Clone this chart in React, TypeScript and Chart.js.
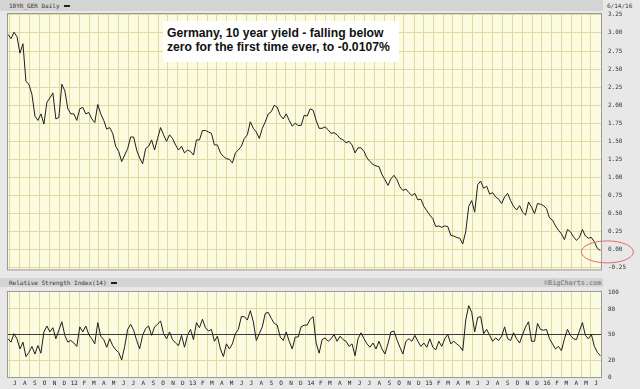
import React, { useEffect, useRef } from "react";
import { Chart, registerables } from "chart.js";
Chart.register(...registerables);

// ---- data ----
const START_DATE: [number, number, number] = [2011, 5, 10]; // 2011-06-10
const END_DATE: [number, number, number] = [2016, 5, 14]; // 2016-06-14
const AXIS_END: [number, number, number] = [2016, 5, 16];

// 10-year German yield (%), evenly spaced samples from START_DATE to END_DATE
const YIELD_PCT = [
  2.98, 2.92, 3.01, 2.95, 2.72, 2.85, 2.33, 2.29, 2.15, 1.85,
  1.79, 1.88, 1.74, 2.04, 2.10, 2.17, 1.81, 1.83, 2.29, 2.20,
  1.95, 1.88, 1.88, 1.79, 1.95, 1.97, 1.88, 1.90, 1.81, 1.76,
  2.01, 1.88, 1.79, 1.67,
  1.69, 1.61, 1.43, 1.36, 1.22, 1.31, 1.40, 1.56, 1.56, 1.38,
  1.27, 1.19, 1.40, 1.43, 1.52, 1.38, 1.54, 1.69, 1.59, 1.50,
  1.59, 1.54, 1.45, 1.38, 1.43, 1.34, 1.38, 1.36, 1.31, 1.52,
  1.52, 1.65,
  1.65, 1.63, 1.61, 1.45, 1.45, 1.34, 1.29, 1.26, 1.25, 1.20,
  1.34, 1.38, 1.43, 1.54, 1.59, 1.77, 1.68, 1.63, 1.54, 1.68,
  1.77, 1.88, 1.91, 2.00, 1.97, 1.86, 1.81, 1.88, 1.79, 1.71,
  1.75,
  1.72, 1.72, 1.86, 1.85, 1.95, 1.93, 1.79, 1.68, 1.68, 1.70,
  1.66, 1.61, 1.62, 1.59, 1.54, 1.52, 1.48, 1.50, 1.45, 1.34,
  1.41, 1.41, 1.36, 1.27, 1.22, 1.18, 1.16, 1.15, 1.04, 0.97,
  0.89, 0.98, 1.03, 0.97,
  0.87, 0.82, 0.84, 0.79, 0.75, 0.78, 0.69, 0.70, 0.60, 0.54,
  0.48, 0.43, 0.32, 0.33, 0.31, 0.33, 0.32, 0.20, 0.19, 0.17,
  0.16, 0.08, 0.25, 0.60, 0.68, 0.52, 0.90, 0.95, 0.85, 0.88,
  0.77, 0.79, 0.73, 0.70,
  0.64, 0.73, 0.78, 0.68, 0.60, 0.55, 0.61, 0.52, 0.48, 0.66,
  0.59, 0.50, 0.64, 0.63, 0.61, 0.57, 0.44, 0.41, 0.33, 0.27,
  0.22, 0.14, 0.28, 0.25, 0.18, 0.13, 0.17, 0.28, 0.19, 0.16,
  0.17, 0.11, 0.02,
  -0.01,
];

// RSI(14), same sampling
const RSI_14 = [
  45, 41, 51, 45, 33, 41, 24, 29, 36, 27,
  37, 28, 53, 60, 53, 58, 45, 55, 65, 49,
  41, 43, 40, 36, 59, 53, 60, 50, 45, 39,
  64, 48, 44, 35, 45, 37, 32, 29, 20, 36,
  56, 62, 55, 43, 33, 49, 57, 60, 49, 59,
  62, 66, 51, 45, 53, 44, 40, 37, 49, 35,
  49, 56, 44, 64, 58, 68, 58, 54, 56, 42,
  48, 33, 24, 39, 33, 39, 51, 56, 71, 71,
  67, 78, 65, 43, 51, 59, 75, 76, 69, 63,
  61, 47, 43, 53, 42, 33, 47, 47, 59, 61,
  61, 68, 71, 40,
  28, 44, 46, 42, 45, 50, 42, 48, 44, 42,
  36, 39, 25, 45, 52, 45, 39, 35, 40, 33,
  42, 33, 27, 39, 53, 54, 44, 35, 27, 42,
  45, 42, 49, 42, 36, 40, 35, 45, 35, 32,
  42, 36, 45, 50, 39, 42, 39, 36, 31, 67,
  84, 76, 53, 70, 71, 51, 56, 49, 42, 46,
  43, 48, 59, 45, 43, 52, 45, 40, 50, 59,
  65, 42, 42, 63, 56, 55, 56, 45, 39, 33,
  36, 31, 45, 56, 49, 45, 44, 54, 64, 49,
  45, 50, 36, 29,
  25,
];

const MONTH_LETTERS = ["J", "F", "M", "A", "M", "J", "J", "A", "S", "O", "N", "D"];
const FIRST_MONTH: [number, number] = [2011, 6]; // Jul 2011
const LAST_MONTH: [number, number] = [2016, 5]; // Jun 2016
const YIELD_TICKS = [-0.25, 0, 0.25, 0.5, 0.75, 1, 1.25, 1.5, 1.75, 2, 2.25, 2.5, 2.75, 3, 3.25];
const YIELD_MIN = -0.272;
const YIELD_MAX = 3.262;
const RSI_TICKS = [0, 20, 50, 80, 100];
const TITLE_LINES = [
  "Germany, 10 year yield - falling below",
  "zero for the first time ever, to -0.0107%",
];
const SYMBOL = "10YR_GER Daily";
const DATE_LABEL = "6/14/16";
const RSI_TITLE = "Relative Strength Index(14)";
const CREDIT = "\u00A9BigCharts.com";

// ---- helpers ----
const DAY = 86400000;
const dayOf = (y: number, m: number, d: number) =>
  (Date.UTC(y, m, d) - Date.UTC(START_DATE[0], START_DATE[1], START_DATE[2])) / DAY;
const TOTAL_DAYS = dayOf(...END_DATE);
const AXIS_MAX = dayOf(...AXIS_END);

const toPoints = (arr: number[]) =>
  arr.map((v, i) => ({ x: (i * TOTAL_DAYS) / (arr.length - 1), y: v }));

const monthList: { y: number; m: number }[] = [];
for (let y = FIRST_MONTH[0], m = FIRST_MONTH[1]; y < LAST_MONTH[0] || (y === LAST_MONTH[0] && m <= LAST_MONTH[1]); ) {
  monthList.push({ y, m });
  m++;
  if (m > 11) { m = 0; y++; }
}
const LABEL_TICKS = monthList.map(({ y, m }) => ({
  value: dayOf(y, m, 1),
  label: m === 0 ? String(y % 100).padStart(2, "0") : MONTH_LETTERS[m],
}));
const GRID_TICKS = monthList.map(({ y, m }) => dayOf(y, m - 1, 16));
const LABEL_MAP = new Map(LABEL_TICKS.map((t) => [t.value, t.label]));

const PLOT_BG = "#fbfbdf";
const GRID = "#e2d9a2";
const FRAME = "#9a9a9a";
const MONO = "'DejaVu Sans Mono', monospace";

const bgPlugin = {
  id: "plotBg",
  beforeDraw(chart: any) {
    const { ctx, chartArea: a } = chart;
    ctx.save();
    ctx.fillStyle = PLOT_BG;
    ctx.fillRect(a.left, a.top, a.right - a.left, a.bottom - a.top);
    ctx.restore();
  },
};
const framePlugin = {
  id: "frame",
  afterDraw(chart: any) {
    const { ctx, chartArea: a } = chart;
    ctx.save();
    ctx.strokeStyle = FRAME;
    ctx.lineWidth = 1;
    ctx.strokeRect(a.left - 0.5, a.top - 0.5, a.right - a.left + 1, a.bottom - a.top + 1);
    ctx.restore();
  },
};

const gridX = (hFit = 0) => ({
  type: "linear" as const,
  min: 0,
  max: AXIS_MAX,
  afterBuildTicks: (s: any) => {
    s.ticks = GRID_TICKS.map((v) => ({ value: v }));
  },
  ticks: { display: false },
  grid: { color: GRID, drawTicks: false, lineWidth: 1 },
  border: { display: false },
  afterFit: (s: any) => {
    s.height = hFit;
  },
});

export default function App() {
  const topRef = useRef<HTMLCanvasElement>(null);
  const rsiRef = useRef<HTMLCanvasElement>(null);

  useEffect(() => {
    const pricePts = toPoints(YIELD_PCT);
    const rsiPts = toPoints(RSI_14);
    const lastX = pricePts[pricePts.length - 1].x;

    const ringPlugin = {
      id: "ring",
      afterDraw(chart: any) {
        const { ctx } = chart;
        const xs = chart.scales.x;
        const ys = chart.scales.y;
        const cx = xs.getPixelForValue(lastX) + 7;
        const cy = ys.getPixelForValue(-0.03);
        ctx.save();
        ctx.strokeStyle = "#e36a6a";
        ctx.lineWidth = 1;
        ctx.beginPath();
        ctx.ellipse(cx, cy, 26, 11, 0, 0, Math.PI * 2);
        ctx.stroke();
        ctx.restore();
      },
    };

    const top = new Chart(topRef.current as HTMLCanvasElement, {
      type: "line",
      data: {
        datasets: [
          {
            data: pricePts,
            borderColor: "#1e1e1e",
            borderWidth: 1,
            pointRadius: 0,
            tension: 0,
          },
        ],
      },
      options: {
        responsive: false,
        animation: false,
        devicePixelRatio: 1,
        layout: { padding: { left: 8, top: 14, right: 0, bottom: 7 } },
        plugins: { legend: { display: false }, tooltip: { enabled: false } },
        scales: {
          x: gridX(0) as any,
          y: {
            position: "right",
            min: YIELD_MIN,
            max: YIELD_MAX,
            afterBuildTicks: (s: any) => {
              s.ticks = YIELD_TICKS.map((v) => ({ value: v }));
            },
            ticks: {
              callback: (v: any) => Number(v).toFixed(2),
              font: { family: MONO, size: 6 },
              color: "#333",
              padding: 7,
              autoSkip: false,
            },
            grid: { color: GRID, drawTicks: false },
            border: { display: false },
            afterFit: (s: any) => {
              s.width = 39;
            },
          } as any,
        },
      },
      plugins: [bgPlugin, framePlugin, ringPlugin],
    });

    const rsi = new Chart(rsiRef.current as HTMLCanvasElement, {
      type: "line",
      data: {
        datasets: [
          {
            data: rsiPts,
            borderColor: "#1e1e1e",
            borderWidth: 1,
            pointRadius: 0,
            tension: 0,
          },
        ],
      },
      options: {
        responsive: false,
        animation: false,
        devicePixelRatio: 1,
        layout: { padding: { left: 8, top: 12, right: 0, bottom: 0 } },
        plugins: { legend: { display: false }, tooltip: { enabled: false } },
        scales: {
          x: gridX(0) as any,
          xl: {
            type: "linear",
            position: "bottom",
            min: 0,
            max: AXIS_MAX,
            afterBuildTicks: (s: any) => {
              s.ticks = LABEL_TICKS.map((t) => ({ value: t.value }));
            },
            ticks: {
              callback: (v: any) => LABEL_MAP.get(v) ?? "",
              font: { family: MONO, size: 6 },
              color: "#222",
              padding: 3,
              autoSkip: false,
              maxRotation: 0,
              minRotation: 0,
            },
            grid: { display: false, drawTicks: false },
            border: { display: false },
            afterFit: (s: any) => {
              s.height = 12;
            },
          } as any,
          y: {
            position: "right",
            min: 0,
            max: 100,
            afterBuildTicks: (s: any) => {
              s.ticks = RSI_TICKS.map((v) => ({ value: v }));
            },
            ticks: {
              font: { family: MONO, size: 6 },
              color: "#333",
              padding: 7,
              autoSkip: false,
            },
            grid: {
              drawTicks: false,
              color: (c: any) =>
                c.tick && c.tick.value === 50
                  ? "#3a3a3a"
                  : c.tick && (c.tick.value === 0 || c.tick.value === 100)
                  ? "rgba(0,0,0,0)"
                  : GRID,
            },
            border: { display: false },
            afterFit: (s: any) => {
              s.width = 39;
            },
          } as any,
        },
      },
      plugins: [bgPlugin, framePlugin],
    });

    return () => {
      top.destroy();
      rsi.destroy();
    };
  }, []);

  const tiny: React.CSSProperties = {
    position: "absolute",
    fontFamily: MONO,
    fontSize: 6,
    lineHeight: "8px",
    color: "#333",
    whiteSpace: "nowrap",
  };
  const dash: React.CSSProperties = {
    display: "inline-block",
    width: 6,
    height: 2,
    background: "#222",
    verticalAlign: "middle",
    marginLeft: 4,
  };

  return (
    <div
      style={{
        position: "absolute",
        left: 0,
        top: 0,
        width: 640,
        height: 389,
        background: "#e8e8e8",
        overflow: "hidden",
      }}
    >
      <div style={{ position: "absolute", left: 0, top: 0, width: 603, height: 11, background: "#d4d4d4" }} />
      <div style={{ ...tiny, left: 9, top: 2 }}>
        {SYMBOL}
        <span style={dash} />
      </div>
      <div style={{ ...tiny, left: 607, top: 2 }}>{DATE_LABEL}</div>

      <div style={{ position: "absolute", left: 0, top: 278, width: 603, height: 9, background: "#d4d4d4" }} />
      <div style={{ ...tiny, left: 9, top: 279 }}>
        {RSI_TITLE}
        <span style={dash} />
      </div>
      <div
        style={{
          ...tiny,
          left: 544,
          top: 279,
          fontWeight: "bold",
          fontSize: 6.8,
          color: "#8a8a8a",
        }}
      >
        {CREDIT}
      </div>

      <canvas
        ref={topRef}
        width={640}
        height={280}
        style={{ position: "absolute", left: 0, top: 0, width: 640, height: 280 }}
      />
      <canvas
        ref={rsiRef}
        width={640}
        height={109}
        style={{ position: "absolute", left: 0, top: 280, width: 640, height: 109 }}
      />

      <div
        style={{
          position: "absolute",
          left: 163,
          top: 21,
          width: 236,
          height: 41,
          background: "#ffffff",
        }}
      />
      <div
        style={{
          position: "absolute",
          left: 167,
          top: 25.6,
          fontFamily: "'Liberation Sans', Arial, sans-serif",
          fontWeight: "bold",
          fontSize: 13.4,
          lineHeight: "14px",
          color: "#111",
          whiteSpace: "nowrap",
          transform: "scaleX(0.91)",
          transformOrigin: "0 0",
        }}
      >
        {TITLE_LINES.map((t, i) => (
          <div key={i}>{t}</div>
        ))}
      </div>
    </div>
  );
}
